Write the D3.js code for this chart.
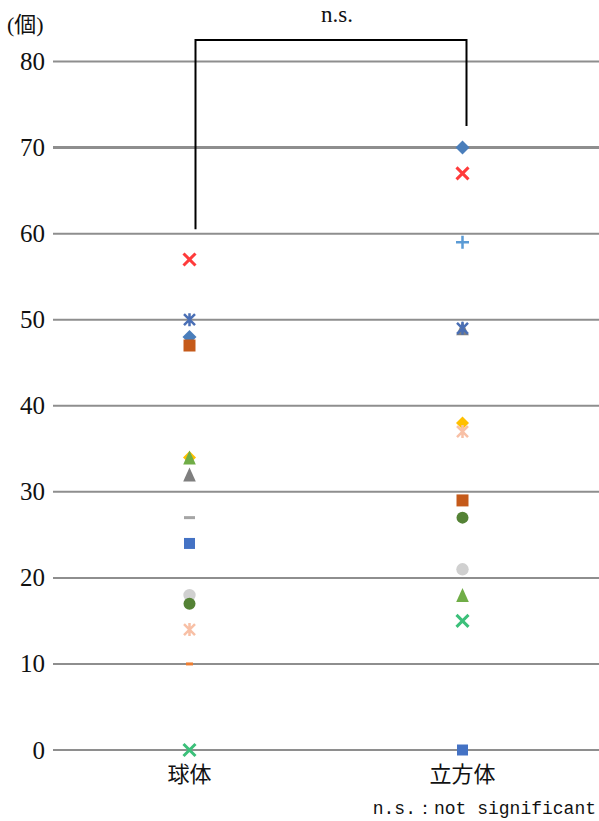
<!DOCTYPE html>
<html>
<head>
<meta charset="utf-8">
<script src="https://cdn.jsdelivr.net/npm/d3@7"></script>
<style>
  html, body { margin: 0; padding: 0; background: #fff; }
  svg { display: block; }
</style>
</head>
<body>
<svg id="chart" width="599" height="821"></svg>
<script>
// Categories on the x axis
const categories = ["球体", "立方体"];

// One series per subject: [球体, 立方体]; null = no point shown
const blueDiamond   = [48, 70];
const orangeSquare  = [47, 29];
const goldDiamond   = [34, 38];
const greenTriangle = [34, 18];
const grayTriangle  = [32, 49];
const grayDash      = [27, null];
const blueSquare    = [24, 0];
const paleCircle    = [18, 21];
const greenCircle   = [17, 27];
const pinkAsterisk  = [14, 37];
const orangeDash    = [10, null];
const greenCross    = [0, 15];
const redCross      = [57, 67];
const blueAsterisk  = [50, 49];
const bluePlus      = [null, 59];

// Axis ticks
const yTicks = [0, 10, 20, 30, 40, 50, 60, 70, 80];
const yUnit = "(個)";

// Significance bracket: top level, left end, right end (in axis units)
const bracketLevels = [82.5, 60.5, 72.5];
const bracketLabel = "n.s.";
const footnote = "n.s.：not significant";

const svg = d3.select("#chart");

const x = d3.scaleBand().domain(categories).range([53, 599]).padding(0);
const y = d3.scaleLinear().domain([0, 80]).range([750, 61.5]);
const cx = c => x(c) + x.bandwidth() / 2;

// Horizontal gridlines
svg.append("g").selectAll("line").data(yTicks).join("line")
  .attr("x1", 53).attr("x2", 599)
  .attr("y1", d => y(d)).attr("y2", d => y(d))
  .attr("stroke", "#8e8e8e")
  .attr("stroke-width", d => d === 70 ? 3 : 2);

// Y tick labels
svg.append("g").selectAll("text").data(yTicks).join("text")
  .attr("x", 45).attr("y", d => y(d) + 8.5)
  .attr("text-anchor", "end")
  .attr("font-family", "Liberation Serif, serif")
  .attr("font-size", 25)
  .attr("fill", "#111")
  .text(d => d);

svg.append("text")
  .attr("x", 7).attr("y", 32)
  .attr("font-family", "Liberation Serif, Noto Sans CJK JP, serif")
  .attr("font-size", 22)
  .attr("fill", "#111")
  .text(yUnit);

// Category labels
svg.append("g").selectAll("text").data(categories).join("text")
  .attr("x", d => cx(d)).attr("y", 782)
  .attr("text-anchor", "middle")
  .attr("font-family", "Noto Sans CJK JP, sans-serif")
  .attr("font-size", 22)
  .attr("fill", "#111")
  .text(d => d);

// Marker shapes
const shapes = {
  diamond: h => `M0,${-h}L${h},0L0,${h}L${-h},0Z`,
  square: h => `M${-h},${-h}H${h}V${h}H${-h}Z`,
  triangle: h => `M0,${-h}L${h * 0.9},${h}L${-h * 0.9},${h}Z`,
  circle: h => d3.symbol(d3.symbolCircle, Math.PI * h * h)(),
  dash: h => `M${-h},-1.5H${h}V1.5H${-h}Z`,
  cross: h => `M${-h},${-h}L${h},${h}M${h},${-h}L${-h},${h}`,
  plus: h => `M${-h},0H${h}M0,${-h}V${h}`,
  asterisk: h => `M${-h},${-h}L${h},${h}M${h},${-h}L${-h},${h}M0,${-h - 1}V${h + 1}`
};

const series = [
  { values: blueDiamond,   shape: "diamond",  size: 7,   color: "#4a7ebb", filled: true },
  { values: orangeSquare,  shape: "square",   size: 6,   color: "#c55a1a", filled: true },
  { values: goldDiamond,   shape: "diamond",  size: 6.5, color: "#ffc000", filled: true },
  { values: greenTriangle, shape: "triangle", size: 7,   color: "#70ad47", filled: true },
  { values: grayTriangle,  shape: "triangle", size: 7,   color: "#7f7f7f", filled: true },
  { values: grayDash,      shape: "dash",     size: 5.5, color: "#a5a5a5", filled: true },
  { values: blueSquare,    shape: "square",   size: 5.5, color: "#4472c4", filled: true },
  { values: paleCircle,    shape: "circle",   size: 6.2, color: "#d0d0d0", filled: true },
  { values: greenCircle,   shape: "circle",   size: 6,   color: "#548235", filled: true },
  { values: pinkAsterisk,  shape: "asterisk", size: 5.5, color: "#f8c0a6", filled: false, width: 2.5 },
  { values: orangeDash,    shape: "dash",     size: 3.5, color: "#ed7d31", filled: true },
  { values: greenCross,    shape: "cross",    size: 6,   color: "#3cc07a", filled: false, width: 3 },
  { values: redCross,      shape: "cross",    size: 6,   color: "#ff3b3b", filled: false, width: 3 },
  { values: blueAsterisk,  shape: "asterisk", size: 5.5, color: "#4a6fb5", filled: false, width: 2.5 },
  { values: bluePlus,      shape: "plus",     size: 6.5, color: "#5b9bd5", filled: false, width: 2.5 }
];

const points = svg.append("g");
series.forEach(s => {
  const pts = categories
    .map((c, i) => ({ c, v: s.values[i] }))
    .filter(p => p.v !== null);
  points.append("g").selectAll("path").data(pts).join("path")
    .attr("transform", p => `translate(${cx(p.c)},${y(p.v)})`)
    .attr("d", shapes[s.shape](s.size))
    .attr("fill", s.filled ? s.color : "none")
    .attr("stroke", s.filled ? "none" : s.color)
    .attr("stroke-width", s.width || 0);
});

// Significance bracket
const [topLv, leftLv, rightLv] = bracketLevels;
const bx1 = cx(categories[0]) + 6, bx2 = cx(categories[1]) + 4;
svg.append("path")
  .attr("d", `M${bx1},${y(leftLv)}V${y(topLv)}H${bx2}V${y(rightLv)}`)
  .attr("fill", "none")
  .attr("stroke", "#000")
  .attr("stroke-width", 2);

svg.append("text")
  .attr("x", (bx1 + bx2) / 2 + 6).attr("y", 22)
  .attr("text-anchor", "middle")
  .attr("font-family", "Liberation Serif, serif")
  .attr("font-size", 23)
  .attr("fill", "#111")
  .text(bracketLabel);

// Footnote
svg.append("text")
  .attr("x", 596).attr("y", 814)
  .attr("text-anchor", "end")
  .attr("font-family", "Liberation Mono, monospace")
  .attr("font-size", 18)
  .attr("fill", "#111")
  .text(footnote);
</script>
</body>
</html>
